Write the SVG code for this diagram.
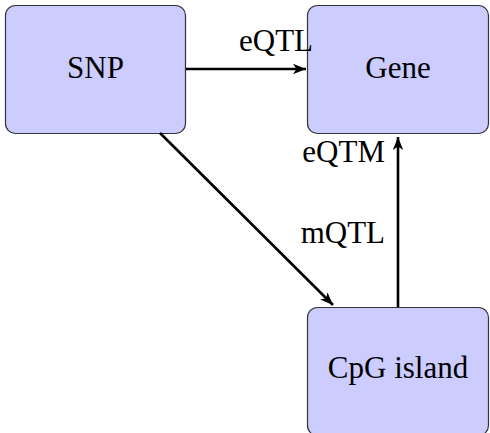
<svg xmlns="http://www.w3.org/2000/svg" width="490" height="433" viewBox="0 0 490 433">
<style>
.node rect{fill:#ccccff;stroke:#333;stroke-width:1.2}
text{font-family:"Liberation Serif","Times New Roman",serif;font-size:31px;fill:#000}
.lbl text{text-anchor:middle}
.edges path{stroke:#000;stroke-width:2.6;fill:none}
</style>
<defs>
<marker id="ah" markerWidth="16" markerHeight="12" refX="13" refY="6" orient="auto" markerUnits="userSpaceOnUse">
<path d="M0,0.8 L13,6 L0,11.2 L3.5,6 Z" fill="#000"/>
</marker>
</defs>
<g id="snp" class="node lbl"><rect x="5.5" y="5.5" width="180" height="128" rx="10"/><text x="95.5" y="78">SNP</text></g>
<g id="gene" class="node lbl"><rect x="307.5" y="5.5" width="181" height="128" rx="10"/><text x="398" y="78">Gene</text></g>
<g id="cpg" class="node lbl"><rect x="307.5" y="307.5" width="181" height="128" rx="10"/><text x="398" y="378">CpG island</text></g>
<g class="edges">
<path d="M186,69 L306,69" marker-end="url(#ah)"/>
<path d="M160,133 L333,305" marker-end="url(#ah)"/>
<path d="M398,307 L398,137" marker-end="url(#ah)"/>
</g>
<g id="labels">
<text x="276" y="51" text-anchor="middle">eQTL</text>
<text x="385" y="162" text-anchor="end">eQTM</text>
<text x="385" y="243" text-anchor="end">mQTL</text>
</g>
</svg>
